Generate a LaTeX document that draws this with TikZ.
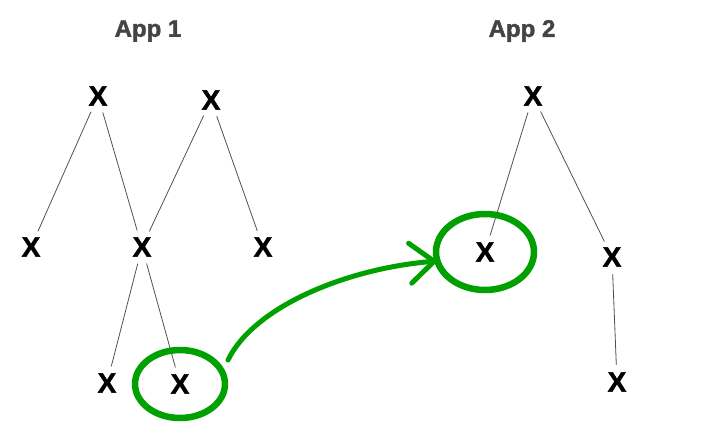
\documentclass[tikz,border=0pt]{standalone}
\usepackage{fontspec}
\setsansfont{Liberation Sans}
\newfontface\heavyface{Liberation Sans Bold}[FakeBold=1.6]
\usetikzlibrary{arrows.meta}
\definecolor{markgreen}{RGB}{0,160,0}
\definecolor{titlegray}{RGB}{68,68,68}
\definecolor{edgegray}{RGB}{80,80,80}

\begin{document}
\begin{tikzpicture}[x=1pt,y=-1pt,
    item/.style={circle, inner sep=0pt, minimum size=34pt, font=\heavyface\fontsize{28}{28}\selectfont},
    apptitle/.style={font=\heavyface\fontsize{24}{24}\selectfont, text=titlegray},
    branch/.style={draw=edgegray, line width=0.8pt},
    ringmark/.style={draw=markgreen, line width=6.5pt}]
    \sffamily
    \useasboundingbox (0,0) rectangle (722,447);

    \node[apptitle] (title1) at (148,31) {App 1};
    \node[apptitle] (title2) at (522,31) {App 2};

    % app 1
    \node[item] (a1) at (98,96)   {X};
    \node[item] (b1) at (211,100) {X};
    \node[item] (c1) at (31,247)  {X};
    \node[item] (d1) at (142,247) {X};
    \node[item] (e1) at (263,247) {X};
    \node[item] (f1) at (107,383) {X};
    \node[item] (g1) at (180,384) {X};
    \foreach \u/\v in {a1/c1,a1/d1,b1/d1,b1/e1,d1/f1,d1/g1}
        \draw[branch] (\u) -- (\v);

    % app 2
    \node[item] (a2) at (533,96)  {X};
    \node[item] (b2) at (485,252) {X};
    \node[item] (c2) at (612,257) {X};
    \node[item] (d2) at (617,382) {X};
    \foreach \u/\v in {a2/b2,a2/c2,c2/d2}
        \draw[branch] (\u) -- (\v);

    % moved node
    \draw[ringmark] (g1) ellipse (45pt and 34pt);
    \draw[ringmark] (b2) ellipse (49pt and 38pt);
    \coordinate (from) at (228,360);
    \coordinate (to) at (438,261);
    \draw[ringmark, line width=5pt, line cap=round, -{Straight Barb[length=24pt, width=40pt, line cap=round]}]
        (from) .. controls (255,305) and (350,268) .. (to);
\end{tikzpicture}
\end{document}
